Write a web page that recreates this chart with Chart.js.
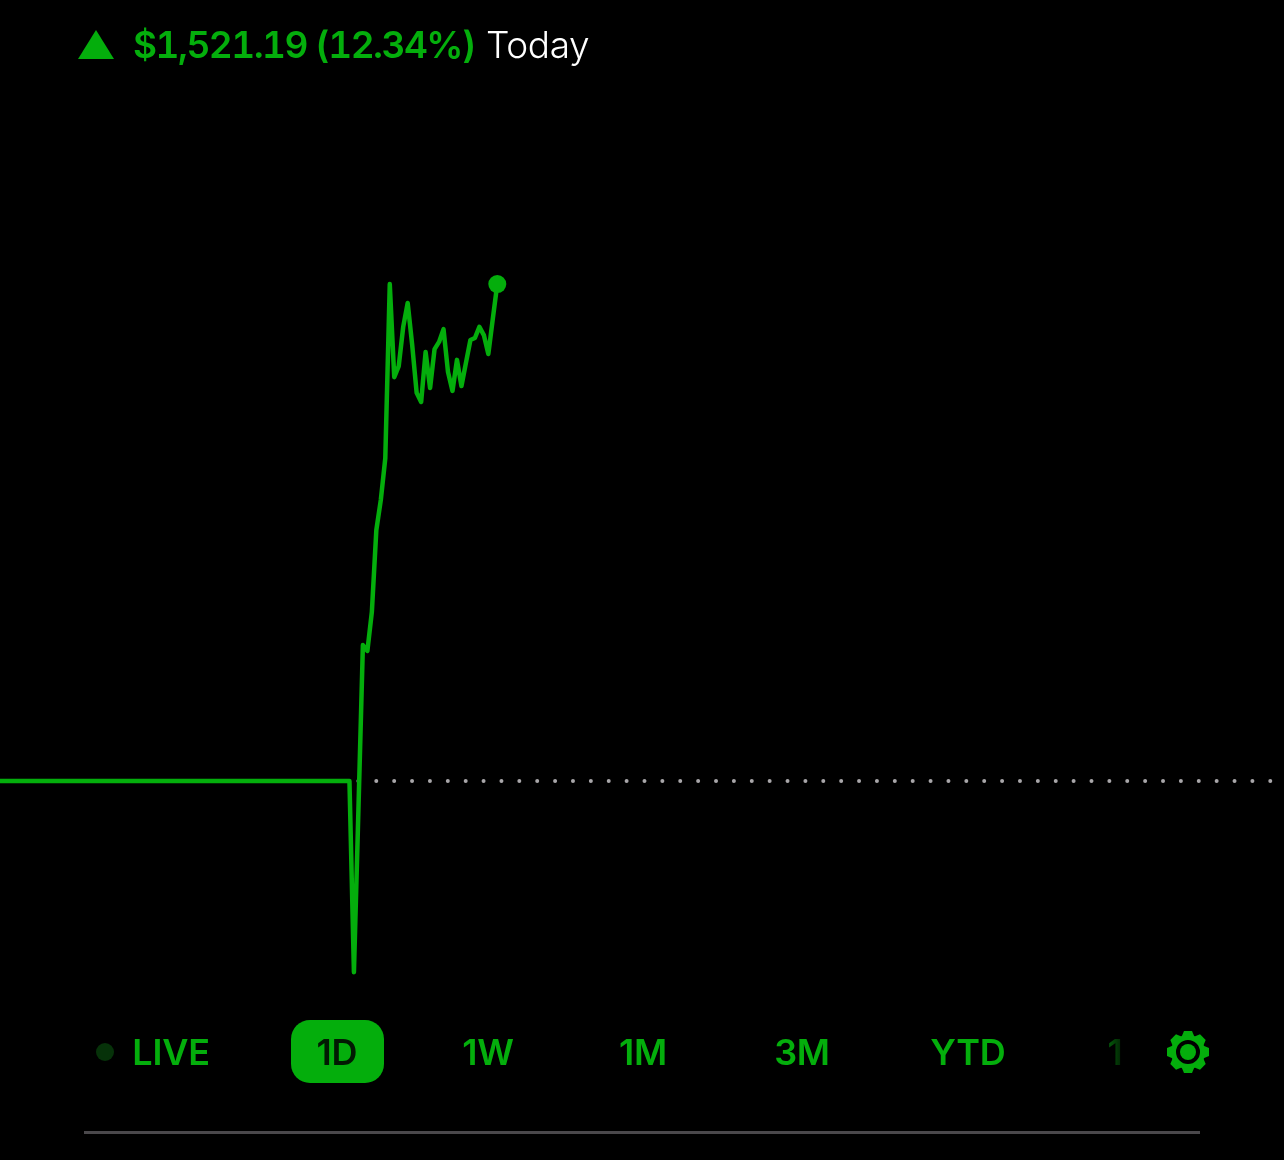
<!DOCTYPE html>
<html>
<head>
<meta charset="utf-8">
<title>Portfolio 1D</title>
<script src="https://cdn.jsdelivr.net/npm/chart.js@4/dist/chart.umd.min.js"></script>
<style>
  html, body { margin: 0; padding: 0; background: #000; }
  #wrap { position: relative; width: 1284px; height: 1160px; overflow: hidden; background: #000; }
  #chartLine { position: absolute; left: 0; top: 0; }
  .txt { position: absolute; white-space: nowrap; font-family: Inter, sans-serif; line-height: 1; }
  .green { color: #04ae0c; }
  .tab { top: 1034px; font-size: 36px; font-weight: 600; letter-spacing: -0.2px; transform: translateX(-50%); }
  #arrow, #gear { position: absolute; }
  #pill { position: absolute; left: 291px; top: 1020px; width: 93px; height: 63px; border-radius: 19px; background: #04ae0c; }
  #liveDot { position: absolute; left: 96px; top: 1043px; width: 18px; height: 18px; border-radius: 50%; background: #063209; }
  #rule { position: absolute; left: 84px; top: 1131px; width: 1116px; height: 3px; background: #4a484b; }
</style>
</head>
<body>
<div id="wrap">
  <canvas id="chartLine" width="1284" height="1160"></canvas>

  <svg id="arrow" style="left:78px;top:29px" width="38" height="31"><polygon points="18,1 36,30 0,30" fill="#04ae0c"/></svg>
  <div class="txt green" style="left:133px;top:26px;font-size:37px;font-weight:600;font-variant-numeric:tabular-nums;letter-spacing:-1.52px">$1,521.19 (12.34%)</div>
  <div class="txt" style="left:486px;top:26px;font-size:37px;font-weight:300;color:#fff;letter-spacing:-0.4px">Today</div>

  <div id="liveDot"></div>
  <div id="pill"></div>
  <div id="tabs"></div>
  <svg id="gear" style="left:1164px;top:1028px" width="48" height="48" viewBox="-24 -24 48 48"></svg>
  <div id="rule"></div>
</div>

<script>
// Day change in dollars, sampled every 5 minutes (bar number on x)
const barIndex = [0, 78, 79, 80, 81, 82, 83, 84, 85, 86, 87, 88, 89, 90, 91, 92, 93, 94, 95, 96, 97, 98, 99, 100, 101, 102, 103, 104, 105, 106, 107, 108, 109, 110, 111];
const dayChange = [0, 0, -585, -90, 416, 398, 517, 768, 860, 988, 1521, 1236, 1270, 1390, 1463, 1335, 1188, 1160, 1313, 1203, 1322, 1344, 1383, 1252, 1194, 1289, 1209, 1280, 1350, 1356, 1390, 1365, 1307, 1415, 1521.19];

// previous close reference line, bar numbers only
const closeBars = [80, 286.6];
const closeValues = [0, 0];

const rangeTabs = ["LIVE", "1D", "1W", "1M", "3M", "YTD", "1"];
const tabCenters = [171, 337, 488, 643, 802, 968, 1115];

const GREEN = "#04ae0c";

// Chart line
const data = {
  datasets: [
    {
      label: "Day change",
      data: barIndex.map((x, i) => ({ x: x, y: dayChange[i] })),
      borderColor: GREEN,
      backgroundColor: GREEN,
      borderWidth: 4.5,
      tension: 0,
      borderJoinStyle: "round",
      borderCapStyle: "round",
      pointRadius: (ctx) => (ctx.dataIndex === barIndex.length - 1 ? 9 : 0),
      pointBorderWidth: 0,
      order: 1,
    },
    {
      label: "Previous close",
      data: closeBars.map((x, i) => ({ x: x, y: closeValues[i] })),
      borderColor: "#a9a7aa",
      borderWidth: 4,
      borderDash: [0, 17.88],
      borderCapStyle: "round",
      pointRadius: 0,
      order: 2,
    },
  ],
};

const configLineChart = {
  type: "line",
  data,
  options: {
    responsive: false,
    animation: false,
    layout: { padding: 0, autoPadding: false },
    plugins: { legend: { display: false }, tooltip: { enabled: false } },
    scales: {
      x: { type: "linear", display: false, min: 0, max: 286.6 },
      y: { display: false, min: -1160, max: 2390.5 },
    },
  },
};

var chartLine = new Chart(document.getElementById("chartLine"), configLineChart);

// range tabs
const tabs = document.getElementById("tabs");
rangeTabs.forEach((name, i) => {
  const el = document.createElement("div");
  el.className = "txt tab green";
  el.style.left = tabCenters[i] + "px";
  el.textContent = name;
  if (name === "1D") el.style.color = "#021a03";
  if (i === rangeTabs.length - 1) {
    el.style.color = "transparent";
    el.style.backgroundImage = "linear-gradient(90deg, #04600a, #021f04)";
    el.style.webkitBackgroundClip = "text";
    el.style.backgroundClip = "text";
  }
  tabs.appendChild(el);
});

// gear icon
const gear = document.getElementById("gear");
let gearSvg = "";
for (let a = 0; a < 360; a += 45) {
  gearSvg += '<polygon points="-6.5,-15 -4,-21 4,-21 6.5,-15" fill="' + GREEN + '" transform="rotate(' + a + ')"/>';
}
gearSvg += '<circle r="14.5" fill="none" stroke="' + GREEN + '" stroke-width="5"/>';
gearSvg += '<circle r="8" fill="' + GREEN + '"/>';
gear.innerHTML = gearSvg;
</script>
</body>
</html>
